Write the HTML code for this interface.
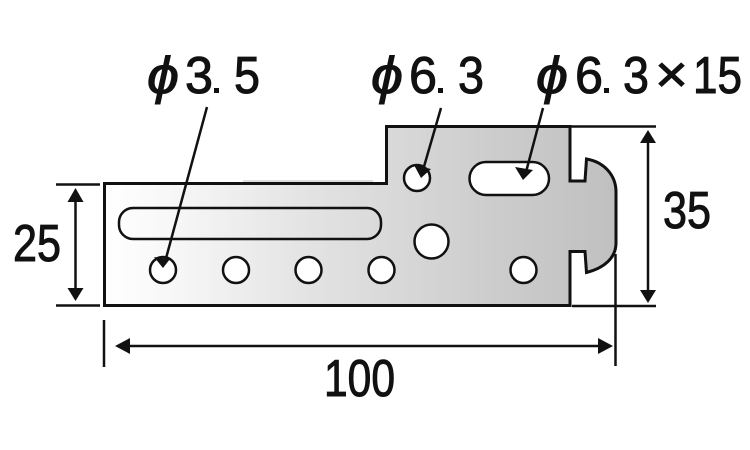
<!DOCTYPE html>
<html><head><meta charset="utf-8"><style>
html,body{margin:0;padding:0;background:#fff;width:750px;height:450px;overflow:hidden}
svg{display:block}
text{font-family:"Liberation Sans","DejaVu Sans",sans-serif;font-size:52px;fill:#111;stroke:#111;stroke-width:1}
</style></head><body>
<svg width="750" height="450" viewBox="0 0 750 450" xmlns="http://www.w3.org/2000/svg">
<defs>
<linearGradient id="g" gradientUnits="userSpaceOnUse" x1="104" y1="0" x2="616" y2="0">
<stop offset="0" stop-color="#ffffff"/><stop offset="0.12" stop-color="#f8f8f8"/><stop offset="0.4" stop-color="#e3e3e3"/><stop offset="0.75" stop-color="#cdcdcd"/><stop offset="1" stop-color="#c0c0c0"/>
</linearGradient>
</defs>
<rect x="243" y="180" width="130" height="2" fill="#ddd"/>
<path d="M104.500 183.500H386.500V126.500H570V181H585L586.500 159C604 162 616 175 616 192V243C616 258 604 268 586.500 272.500L585 251.500H570V305.500H104.500Z" fill="url(#g)" stroke="#111" stroke-width="3"/>
<rect x="119" y="208" width="262" height="31" rx="14" fill="url(#g)" stroke="#111" stroke-width="2.500"/>
<rect x="469.500" y="162" width="79.500" height="33" rx="16.500" fill="#fff" stroke="#111" stroke-width="2.500"/>
<g fill="#fff" stroke="#111" stroke-width="2.500">
<circle cx="163" cy="270" r="13"/><circle cx="236" cy="270" r="13"/><circle cx="308.500" cy="270" r="13"/><circle cx="381.500" cy="270" r="13"/><circle cx="523.500" cy="270" r="13"/><circle cx="417" cy="178" r="13"/><circle cx="431.500" cy="241.500" r="17"/>
</g>
<g stroke="#111" stroke-width="2.500" fill="none">
<path d="M207 107L165 262"/><path d="M441 108L423 170"/><path d="M543 108L526 172"/>
<path d="M570 126.500H656M572 306H656M56 184.500H100M56 305.500H100M104 320V367M615.500 254V366"/>
<path d="M648 136V296M75.500 194V296M124 346H606"/>
</g>
<g fill="#111">
<path d="M163 268L154 257L170 259Z"/>
<path d="M421 178L414 165L431 169Z"/>
<path d="M523 180L515 167L533 170Z"/>
<path d="M648 130L656 143H640Z"/><path d="M648 303L640 290H656Z"/>
<path d="M75.500 188L83.500 202H67.500Z"/><path d="M75.500 301L67.500 288H83.500Z"/>
<path d="M115 346L130 338V354Z"/><path d="M613 346L598 338V354Z"/>
</g>
<g>
<text x="147" y="93" textLength="32" lengthAdjust="spacingAndGlyphs" font-style="italic">ϕ</text>
<text x="185" y="93" textLength="28" lengthAdjust="spacingAndGlyphs">3</text>
<rect x="214" y="88" width="5" height="5" fill="#111"/>
<text x="234" y="93" textLength="26" lengthAdjust="spacingAndGlyphs">5</text>

<text x="371" y="93" textLength="32" lengthAdjust="spacingAndGlyphs" font-style="italic">ϕ</text>
<text x="409" y="93" textLength="28" lengthAdjust="spacingAndGlyphs">6</text>
<rect x="438" y="88" width="5" height="5" fill="#111"/>
<text x="458" y="93" textLength="26" lengthAdjust="spacingAndGlyphs">3</text>

<text x="536" y="93" textLength="32" lengthAdjust="spacingAndGlyphs" font-style="italic">ϕ</text>
<text x="575" y="93" textLength="28" lengthAdjust="spacingAndGlyphs">6</text>
<rect x="604" y="88" width="5" height="5" fill="#111"/>
<text x="623" y="93" textLength="26" lengthAdjust="spacingAndGlyphs">3</text>
<text x="655" y="92" textLength="33" lengthAdjust="spacingAndGlyphs">×</text>
<text x="693" y="93" textLength="49" lengthAdjust="spacingAndGlyphs">15</text>

<text x="13" y="261" textLength="48" lengthAdjust="spacingAndGlyphs">25</text>
<text x="663" y="228" textLength="48" lengthAdjust="spacingAndGlyphs">35</text>
<text x="324" y="396" textLength="71" lengthAdjust="spacingAndGlyphs">100</text>
</g>
</svg>
</body></html>
